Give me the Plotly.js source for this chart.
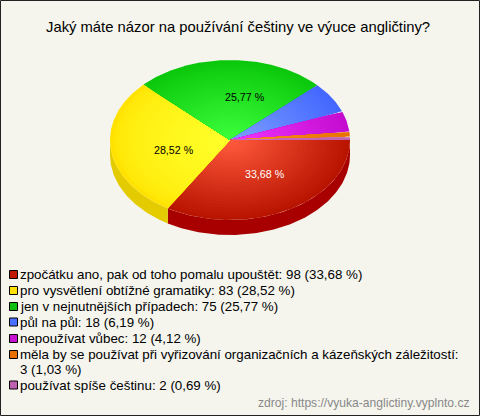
<!DOCTYPE html>
<html><head><meta charset="utf-8">
<script src="https://cdn.plot.ly/plotly-3.0.0.min.js"></script>
<style>html,body{margin:0;padding:0;background:#fff}#c{width:480px;height:416px}</style>
</head><body><div id="c"></div>
<script>
var categories = ["zpočátku ano, pak od toho pomalu upouštět","pro vysvětlení obtížné gramatiky","jen v nejnutnějších případech","půl na půl","nepoužívat vůbec","měla by se používat při vyřizování organizačních a kázeňských záležitostí","používat spíše češtinu"];
var counts = [98,83,75,18,12,3,2];
var percentLabels = ["33,68 %","28,52 %","25,77 %","6,19 %","4,12 %","1,03 %","0,69 %"];
var innerColors = ["#ff5a3c","#ffff28","#3cff3c","#7d9eff","#f035ff","#ff9a28","#d070c8"];
var outerColors = ["#b81400","#ffe200","#0cc80c","#4468ff","#c40cd0","#e87000","#c060b0"];
var shadeGamma = [1,0.5,1,1,1,1,1];
var wallColors = ["#a80000","#e3cb00","#0a9a0a","#3050c0","#900098","#b05000","#905088"];
var swatchColors = ["#c01800","#ffe000","#10c010","#4a70ff","#c810d0","#e87000","#c060b0"];
var labelColors = ["#ffffff","#000000","#000000"];
var titleText = "Jaký máte názor na používání češtiny ve výuce angličtiny?";
var sourceText = "zdroj: https://vyuka-anglictiny.vyplnto.cz";

var W=480,H=416,cx=230,cy=140,rx=120,ry=80,depth=15,RINGS=26;
function hex(c){return [1,3,5].map(function(i){return parseInt(c.substr(i,2),16)})}
function mix(a,b,t){var A=hex(a),B=hex(b);return 'rgb('+A.map(function(v,i){return Math.round(v+(B[i]-v)*t)}).join(',')+')'}
var total=counts.reduce(function(a,b){return a+b},0);
var traces=[],angles=[],acc=0;
counts.forEach(function(v){var s=acc/total*360;acc+=v;angles.push([s,acc/total*360])});
function poly(x,y,color){traces.push({type:'scatter',mode:'lines',x:x,y:y,fill:'toself',fillcolor:color,line:{width:0,color:color},hoverinfo:'skip',showlegend:false})}
function px(a,k){return cx+rx*k*Math.cos(a*Math.PI/180)}
function py(a,k,d){return cy+ry*k*Math.sin(a*Math.PI/180)+(d||0)}
angles.forEach(function(r,i){
  var s=r[0],e=Math.min(r[1],180);
  if(s>=180)return;
  var x=[],y=[],a;
  for(a=s;a<e;a+=1){x.push(px(a,1));y.push(py(a,1))}
  x.push(px(e,1));y.push(py(e,1));
  x.push(px(e,1));y.push(py(e,1,depth));
  for(a=e;a>s;a-=1){x.push(px(a,1));y.push(py(a,1,depth))}
  x.push(px(s,1));y.push(py(s,1,depth));
  poly(x,y,wallColors[i]);
});
angles.forEach(function(r,i){
  for(var n=0;n<RINGS;n++){
    var k=1-n/RINGS,x=[cx],y=[cy],a;
    for(a=r[0];a<r[1];a+=0.5){x.push(px(a,k));y.push(py(a,k))}
    x.push(px(r[1],k));y.push(py(r[1],k));x.push(cx);y.push(cy);
    poly(x,y,mix(outerColors[i],innerColors[i],Math.pow(n/(RINGS-1),shadeGamma[i])));
  }
});
var font='Liberation Sans, Arial, sans-serif';
var annotations=[],shapes=[];
function note(t,x,y,size,color,anchor){annotations.push({text:t,x:x/W,y:1-y/H,xref:'paper',yref:'paper',xanchor:anchor||'left',yanchor:'middle',showarrow:false,align:'left',font:{family:font,size:size,color:color},borderpad:0,borderwidth:0})}
note(titleText,238,27,14.8,'#000','center');
var labelX=[264.5,174,245],labelY=[174,150,97];
[0,1,2].forEach(function(i){note(percentLabels[i],labelX[i],labelY[i],10.67,labelColors[i],'center')});
var rowY=[274.5,290.5,306.5,322,338.5,354.5,369,385];
var row=0;
categories.forEach(function(c,i){
  var y=rowY[row];
  shapes.push({type:'rect',xref:'paper',yref:'paper',x0:9.5/W,x1:17.5/W,y0:1-(y-4)/H,y1:1-(y+4)/H,fillcolor:swatchColors[i],line:{color:'#000',width:1}});
  if(i===5){note(c+':',20,y,13.33,'#000');row++;note(counts[i]+' ('+percentLabels[i]+')',20,rowY[row],13.33,'#000');}
  else note(c+': '+counts[i]+' ('+percentLabels[i]+')',20,y,13.33,'#000');
  row++;
});
note(sourceText,470,403,12.1,'#888','right');
shapes.push({type:'rect',xref:'paper',yref:'paper',x0:0.5/W,x1:479.5/W,y0:0.5/H,y1:1-0.5/H,line:{color:'#222',width:1},fillcolor:'rgba(0,0,0,0)'});
Plotly.newPlot('c',traces,{
  width:W,height:H,margin:{l:0,r:0,t:0,b:0},paper_bgcolor:'#f5f5ee',plot_bgcolor:'#f5f5ee',showlegend:false,hovermode:false,
  xaxis:{range:[0,W],visible:false,fixedrange:true},
  yaxis:{range:[H,0],visible:false,fixedrange:true},
  annotations:annotations,shapes:shapes
},{displayModeBar:false,staticPlot:true});
</script></body></html>
